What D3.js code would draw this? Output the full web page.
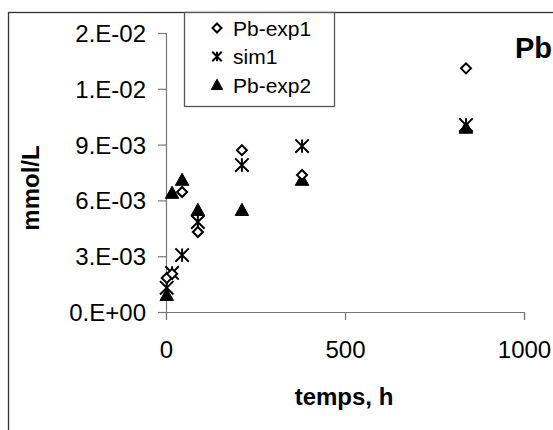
<!DOCTYPE html>
<html>
<head>
<meta charset="utf-8">
<script src="https://cdn.jsdelivr.net/npm/d3@7"></script>
<style>
  body { margin: 0; background: #fff; }
  svg { display: block; font-family: 'Liberation Sans', Arial, sans-serif; }
</style>
</head>
<body>
<svg id="chart" width="553" height="430"></svg>
<script>
const width = 553;
const height = 430;

// data (time in h, concentration in mmol/L)
const times = [2, 17, 45, 89, 212, 380, 838];
const pbExp1 = [0.00183, 0.00205, 0.00645, 0.0043, 0.0087, 0.00737, 0.0131];
const sim1 = [0.0013, 0.0021, 0.00306, 0.00484, 0.0079, 0.00892, 0.01005];
const pbExp2 = [0.00091, 0.0064, 0.0071, 0.00548, 0.00548, 0.0071, 0.0099];
const yTicks = [0, 0.003, 0.006, 0.009, 0.012, 0.015];
const yTickLabels = ['0.E+00', '3.E-03', '6.E-03', '9.E-03', '1.E-02', '2.E-02'];
const xTicks = [0, 500, 1000];

const svg = d3.select('#chart');

// outer chart frame (runs off right and bottom edges)
svg.append('rect')
  .attr('x', 8.5).attr('y', 12.5)
  .attr('width', 700).attr('height', 600)
  .attr('fill', 'none')
  .attr('stroke', '#333')
  .attr('stroke-width', 1.3);

const x = d3.scaleLinear().domain([0, 1000]).range([166, 524]);
const y = d3.scaleLinear().domain([0, 0.015]).range([312, 33]);

// y axis
const yAxis = svg.append('g')
  .attr('transform', 'translate(166,0)')
  .call(d3.axisLeft(y).tickValues(yTicks).tickSize(8).tickPadding(12)
    .tickFormat((d, i) => yTickLabels[i]));

// x axis
const xAxis = svg.append('g')
  .attr('transform', 'translate(0,312)')
  .call(d3.axisBottom(x).tickValues(xTicks).tickSize(8).tickPadding(21)
    .tickFormat(d3.format('d')));

[yAxis, xAxis].forEach(g => {
  g.select('.domain').attr('stroke', '#777').attr('stroke-width', 1.2);
  g.selectAll('.tick line').attr('stroke', '#777').attr('stroke-width', 1.2);
  g.selectAll('.tick text')
    .attr('font-family', "'Liberation Sans', Arial, sans-serif")
    .attr('font-size', 24)
    .attr('fill', '#000');
});
yAxis.selectAll('.tick text').attr('dy', '0.35em');

// axis titles
svg.append('text')
  .attr('x', 344).attr('y', 405)
  .attr('text-anchor', 'middle')
  .attr('font-size', 24).attr('font-weight', 'bold')
  .text('temps, h');

svg.append('text')
  .attr('transform', 'translate(39,188) rotate(-90)')
  .attr('text-anchor', 'middle')
  .attr('font-size', 24).attr('font-weight', 'bold')
  .text('mmol/L');

svg.append('text')
  .attr('x', 515).attr('y', 58)
  .attr('font-size', 29).attr('font-weight', 'bold')
  .text('Pb');

// marker shapes
const diamond = {
  draw(ctx, size) {
    const r = Math.sqrt(size) / 2;
    ctx.moveTo(0, -r); ctx.lineTo(r, 0); ctx.lineTo(0, r); ctx.lineTo(-r, 0); ctx.closePath();
  }
};
const triangle = {
  draw(ctx, size) {
    const r = Math.sqrt(size) / 2;
    ctx.moveTo(0, -r); ctx.lineTo(r, r * 0.8); ctx.lineTo(-r, r * 0.8); ctx.closePath();
  }
};
const star = {
  draw(ctx, size) {
    const r = Math.sqrt(size) / 2;
    ctx.moveTo(-r, -r); ctx.lineTo(r, r);
    ctx.moveTo(r, -r); ctx.lineTo(-r, r);
    ctx.moveTo(0, -r); ctx.lineTo(0, r);
  }
};

const series = [
  { name: 'Pb-exp1', values: pbExp1, type: diamond, size: 100, fill: '#fff', stroke: '#000', sw: 2, lsize: 80 },
  { name: 'sim1', values: sim1, type: star, size: 180, fill: 'none', stroke: '#000', sw: 2, lsize: 90 },
  { name: 'Pb-exp2', values: pbExp2, type: triangle, size: 180, fill: '#000', stroke: '#000', sw: 1, lsize: 130 }
];

// draw exp2 first, then sim, then exp1 on top
const drawOrder = [series[2], series[1], series[0]];
drawOrder.forEach(s => {
  svg.append('g').selectAll('path')
    .data(times.map((t, i) => [t, s.values[i]]))
    .join('path')
      .attr('transform', d => `translate(${x(d[0])},${y(d[1])})`)
      .attr('d', d3.symbol(s.type, s.size))
      .attr('fill', s.fill)
      .attr('stroke', s.stroke)
      .attr('stroke-width', s.sw);
});

// legend
const legend = svg.append('g');
legend.append('rect')
  .attr('x', 184.5).attr('y', 12.5)
  .attr('width', 150).attr('height', 94)
  .attr('fill', '#fff')
  .attr('stroke', '#555')
  .attr('stroke-width', 1.3);

series.forEach((s, i) => {
  const ly = 28 + i * 28.5;
  legend.append('path')
    .attr('transform', `translate(217,${ly})`)
    .attr('d', d3.symbol(s.type, s.lsize))
    .attr('fill', s.fill)
    .attr('stroke', s.stroke)
    .attr('stroke-width', s.sw);
  legend.append('text')
    .attr('x', 233).attr('y', ly + 7.5)
    .attr('font-size', 21)
    .text(s.name);
});
</script>
</body>
</html>
